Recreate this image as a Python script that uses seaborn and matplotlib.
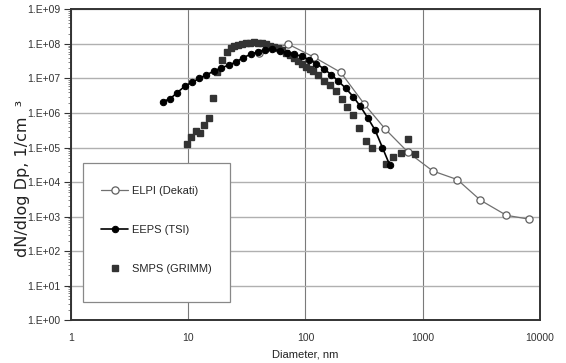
import numpy as np
import pandas as pd
import matplotlib
matplotlib.use('Agg')
import matplotlib.pyplot as plt
import matplotlib.ticker as mticker
from matplotlib.patches import Rectangle
import seaborn as sns

# particle size distributions
elpi_d = [40, 71, 119, 200, 318, 480, 753, 1216, 1972, 3100, 5170, 8110]
elpi_n = [5.3e7, 9.9e7, 4.1e7, 1.5e7, 1.8e6, 3.4e5, 7.2e4, 2.1e4, 1.18e4, 3.0e3, 1.09e3, 8.4e2]

eeps_d = [6.04, 6.98, 8.06, 9.31, 10.8, 12.4, 14.3, 16.5, 19.1, 22.1, 25.5, 29.4,
          34.0, 39.2, 45.3, 52.3, 60.4, 69.8, 80.6, 93.1, 107.5, 124.1, 143.3, 165.5,
          191.1, 220.7, 254.8, 294.3, 339.8, 392.4, 453.2, 523.3]
eeps_n = [2.15e6, 2.56e6, 3.9e6, 5.9e6, 7.8e6, 1.0e7, 1.28e7, 1.62e7, 2.03e7, 2.43e7, 3.0e7, 4.0e7,
          5.0e7, 5.9e7, 6.9e7, 7.0e7, 6.4e7, 5.6e7, 5.0e7, 4.4e7, 3.5e7, 2.7e7, 1.9e7, 1.3e7,
          8.3e6, 5.2e6, 3.0e6, 1.55e6, 7.2e5, 3.2e5, 1.0e5, 3.1e4]

smps_d = [9.7, 10.6, 11.6, 12.7, 13.7, 15.0, 16.3, 17.5, 19.4, 21.3, 23.0, 24.7, 26.8, 29.0,
          31.3, 33.9, 36.6, 39.6, 42.9, 46.3, 50.2, 54.2, 58.7, 63.4, 68.6, 74.2, 80.2, 86.8,
          93.8, 101.5, 109.8, 117, 129, 144, 162, 181, 204, 228, 256, 287, 327, 372,
          490, 563, 648, 748, 858]
smps_n = [1.3e5, 2.0e5, 3.0e5, 2.7e5, 4.4e5, 7.4e5, 2.7e6, 1.5e7, 3.5e7, 6.0e7, 7.5e7, 8.5e7, 9.5e7, 1.02e8,
          1.08e8, 1.1e8, 1.12e8, 1.1e8, 1.05e8, 9.8e7, 9.0e7, 8.2e7, 7.4e7, 6.5e7, 5.6e7, 4.8e7, 4.0e7, 3.3e7,
          2.7e7, 2.2e7, 1.85e7, 1.6e7, 1.25e7, 8.7e6, 6.3e6, 4.3e6, 2.56e6, 1.54e6, 8.6e5, 3.8e5, 1.55e5, 9.8e4,
          3.4e4, 5.3e4, 6.8e4, 1.8e5, 6.4e4]

x_ticks = [1, 10, 100, 1000, 10000]
x_ticklabels = ['1', '10', '100', '1000', '10000']

sns.set_style('white')
plt.rcParams['font.family'] = ['Liberation Sans', 'DejaVu Sans']

fig = plt.figure(figsize=(5.66, 3.63), dpi=100)
ax = fig.add_axes([0.1254, 0.118, 0.8286, 0.856])

elpi = pd.DataFrame({'d': elpi_d, 'n': elpi_n})
eeps = pd.DataFrame({'d': eeps_d, 'n': eeps_n})
smps = pd.DataFrame({'d': smps_d, 'n': smps_n})

sns.lineplot(data=elpi, x='d', y='n', ax=ax, color='#707070', lw=0.9, marker='o',
             ms=5.2, mfc='white', mec='#606060', mew=0.9, label='ELPI (Dekati)', zorder=4)
sns.lineplot(data=eeps, x='d', y='n', ax=ax, color='black', lw=1.2, marker='o',
             ms=4.6, mfc='black', mec='black', label='EEPS (TSI)', zorder=5)
ax.plot(smps['d'], smps['n'], ls='none', marker='s', ms=4.4, color='#333333',
        label='SMPS (GRIMM)', zorder=4)

ax.set_xscale('log')
ax.set_yscale('log')
ax.set_xlim(1, 10000)
ax.set_ylim(1, 1e9)

ax.set_xticks(x_ticks)
ax.set_xticklabels(x_ticklabels)
ax.xaxis.set_minor_locator(mticker.NullLocator())
ax.yaxis.set_major_locator(mticker.LogLocator(base=10, numticks=12))
ax.yaxis.set_major_formatter(mticker.FuncFormatter(lambda v, _: '1.E+%02d' % int(round(np.log10(v)))))
ax.yaxis.set_minor_locator(mticker.LogLocator(base=10, subs=np.arange(2, 10), numticks=12))
ax.yaxis.set_minor_formatter(mticker.NullFormatter())

ax.tick_params(axis='x', length=0, pad=9, labelsize=7.5, colors='#333333')
ax.tick_params(axis='y', which='major', direction='out', length=5, width=0.8,
               left=True, labelsize=7.5, pad=2.5, colors='#333333')
ax.tick_params(axis='y', which='minor', direction='out', length=2, width=0.5, left=True, colors='#555555')

ax.yaxis.grid(True, which='major', color='#b0b0b0', lw=1.0)
ax.xaxis.grid(True, which='major', color='#7a7a7a', lw=0.8)
ax.set_axisbelow(True)

for s in ax.spines.values():
    s.set_color('#333333')
    s.set_linewidth(1.4)

ax.set_xlabel('Diameter, nm', fontsize=8, labelpad=5, color='#222222')
ax.set_ylabel('dN/dlog Dp, 1/cm  \u00b3', fontsize=11.5, color='#222222',
              family=['DejaVu Sans'])
ax.yaxis.set_label_coords(-0.087, 0.457)

# legend box
ax.add_patch(Rectangle((0.0256, 0.058), 0.313, 0.447, transform=ax.transAxes,
                       facecolor='white', edgecolor='#888888', lw=0.9, zorder=3))
ax.legend(loc='center left', bbox_to_anchor=(0.055, 0.29), frameon=False, fontsize=8,
          labelspacing=2.6, handlelength=2.4, handletextpad=0.35, borderaxespad=0)

plt.savefig('out.png', dpi=100)
